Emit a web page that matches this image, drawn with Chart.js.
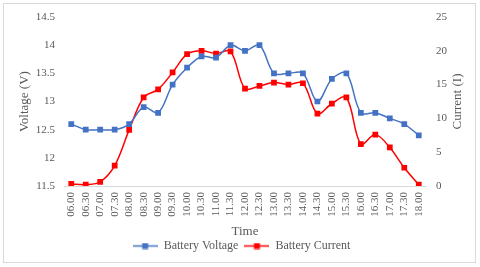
<!DOCTYPE html>
<html>
<head>
<meta charset="utf-8">
<script src="https://cdn.jsdelivr.net/npm/chart.js@4/dist/chart.umd.min.js"></script>
<style>
  html, body { margin: 0; padding: 0; background: #fff; }
  #wrap { position: relative; width: 480px; height: 267px; }
  #frame { position: absolute; left: 3px; top: 3px; width: 473px; height: 260px; border: 1px solid #d9d9d9; box-sizing: border-box; }
  canvas { position: absolute; left: 0; top: 0; }
</style>
</head>
<body>
<div id="wrap">
  <div id="frame"></div>
  <canvas id="myChart" width="480" height="267"></canvas>
</div>
<script>
// data
var times = ['06.00', '06.30', '07.00', '07.30', '08.00', '08.30', '09.00', '09.30', '10.00', '10.30',
             '11.00', '11.30', '12.00', '12.30', '13.00', '13.30', '14.00', '14.30', '15.00', '15.30',
             '16.00', '16.30', '17.00', '17.30', '18.00'];
var voltage = [12.6, 12.5, 12.5, 12.5, 12.6, 12.9, 12.8, 13.3, 13.6, 13.8,
               13.78, 14.0, 13.9, 14.0, 13.5, 13.5, 13.5, 13.0, 13.4, 13.5,
               12.8, 12.8, 12.7, 12.6, 12.4];
var current = [0.3, 0.2, 0.6, 3.0, 8.3, 13.1, 14.3, 16.8, 19.5, 20.0,
               19.6, 19.9, 14.4, 14.8, 15.3, 15.0, 15.2, 10.7, 12.2, 13.1,
               6.2, 7.6, 5.7, 2.7, 0.2];

var blue = '#4472C4';
var red = '#FF0000';
var textColor = '#595959';
var serif = "'Liberation Serif', 'Times New Roman', serif";

function makeIcon(color) {
    var c = document.createElement('canvas');
    c.width = 25; c.height = 7;
    var g = c.getContext('2d');
    g.strokeStyle = color;
    g.lineWidth = 1.5;
    g.beginPath(); g.moveTo(0, 3.5); g.lineTo(25, 3.5); g.stroke();
    g.fillStyle = color;
    g.fillRect(9.5, 0.5, 6, 6);
    return c;
}
var icons = [makeIcon(blue), makeIcon(red)];

// right axis title reads bottom-to-top, so draw it by hand
var rightTitle = {
    id: 'rightTitle',
    afterDraw: function (chart) {
        var ctx = chart.ctx;
        var a = chart.chartArea;
        ctx.save();
        ctx.translate(458, (a.top + a.bottom) / 2);
        ctx.rotate(-Math.PI / 2);
        ctx.font = '13px ' + serif;
        ctx.fillStyle = textColor;
        ctx.textAlign = 'center';
        ctx.textBaseline = 'middle';
        ctx.fillText('Current (I)', 0, 0);
        ctx.restore();
    }
};

new Chart(document.getElementById('myChart'), {
    type: 'line',
    data: {
        labels: times,
        datasets: [{
            label: 'Battery Voltage',
            data: voltage,
            yAxisID: 'y',
            borderColor: blue,
            backgroundColor: blue,
            borderWidth: 1.5,
            pointStyle: 'rect',
            pointRadius: 3,
            tension: 0.35
        }, {
            label: 'Battery Current',
            data: current,
            yAxisID: 'y1',
            borderColor: red,
            backgroundColor: red,
            borderWidth: 1.5,
            pointStyle: 'rect',
            pointRadius: 3,
            tension: 0.35
        }]
    },
    options: {
        responsive: false,
        animation: false,
        layout: { padding: { left: 13, right: 10, top: 17, bottom: 5 } },
        plugins: {
            tooltip: { enabled: false },
            legend: {
                position: 'bottom',
                labels: {
                    usePointStyle: true,
                    pointStyleWidth: 25,
                    boxHeight: 7,
                    padding: 6,
                    color: textColor,
                    font: { family: serif, size: 12 },
                    generateLabels: function (chart) {
                        var items = Chart.defaults.plugins.legend.labels.generateLabels(chart);
                        items.forEach(function (it, i) { it.pointStyle = icons[i]; });
                        return items;
                    }
                }
            }
        },
        scales: {
            x: {
                offset: true,
                grid: { display: false, drawTicks: false },
                border: { display: true, color: '#d9d9d9' },
                ticks: { autoSkip: false, maxRotation: 90, minRotation: 90, padding: 6,
                         color: textColor, font: { family: serif, size: 11 } },
                title: { display: true, text: 'Time', color: textColor,
                         font: { family: serif, size: 13 }, padding: { top: 0, bottom: -5 } },
                afterFit: function (s) { s.height = 48; }
            },
            y: {
                position: 'left',
                min: 11.5, max: 14.5,
                grid: { display: false, drawTicks: false },
                border: { display: false },
                ticks: { stepSize: 0.5, padding: 9, color: textColor,
                         font: { family: serif, size: 11 },
                         callback: function (v) { return String(v); } },
                title: { display: true, text: 'Voltage (V)', color: textColor,
                         font: { family: serif, size: 13 } },
                afterFit: function (s) { s.width = 51; }
            },
            y1: {
                position: 'right',
                min: 0, max: 25,
                grid: { display: false, drawTicks: false },
                border: { display: false },
                ticks: { stepSize: 5, padding: 10, color: textColor,
                         font: { family: serif, size: 11 } },
                afterFit: function (s) { s.width = 44; }
            }
        }
    },
    plugins: [rightTitle]
});
</script>
</body>
</html>
